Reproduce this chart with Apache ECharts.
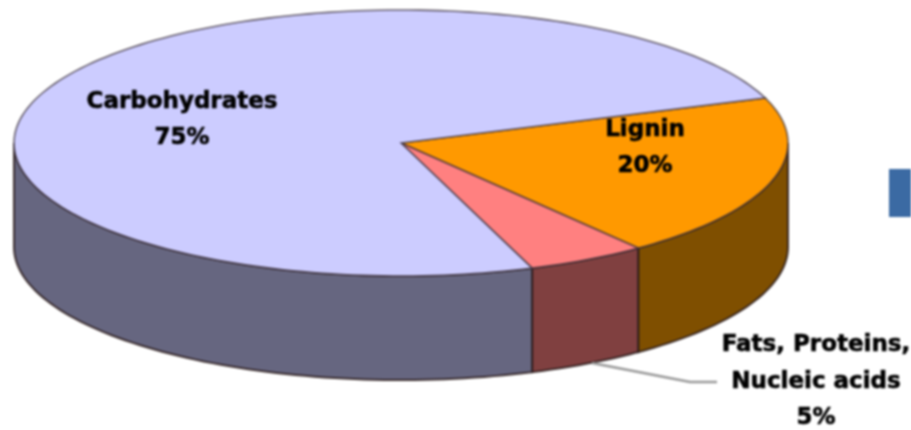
<!DOCTYPE html>
<html>
<head>
<meta charset="utf-8">
<style>
html,body{margin:0;padding:0;background:#fff;overflow:hidden}
#c{width:911px;height:430px;filter:blur(0.9px)}
</style>
<script src="https://cdn.jsdelivr.net/npm/echarts@6/dist/echarts.min.js"></script>
</head>
<body>
<div id="c"></div>
<script>
const categories = ['Lignin', 'Fats, Proteins,\nNucleic acids', 'Carbohydrates'];
const shares = [20, 5, 75];

const topColors = ['#FF9900', '#FF8080', '#CCCCFF'];
const sideColors = ['#7F4F00', '#804040', '#666680'];
const labelAt = [[645, 148], [816, 382], [182, 120]];

const CX = 401, CY = 143, RX = 387, RY = 133, DEPTH = 104, START = -19.8;
const total = shares.reduce((a, b) => a + b, 0);
const rad = d => d * Math.PI / 180;
const pt = (deg, dy) => [CX + RX * Math.cos(rad(deg)), CY + RY * Math.sin(rad(deg)) + (dy || 0)];
function sliceRange(i) {
  let a = START;
  for (let k = 0; k < i; k++) a += shares[k] / total * 360;
  return [a, a + shares[i] / total * 360];
}
function arc(a, b, dy) {
  const out = [], n = Math.max(2, Math.ceil(Math.abs(b - a) / 1.5));
  for (let k = 0; k <= n; k++) out.push(pt(a + (b - a) * k / n, dy));
  return out;
}
const rows = shares.map((v, i) => ({ name: categories[i], value: [v] }));

function renderSide(params, api) {
  const r = sliceRange(params.dataIndex);
  const a = Math.max(r[0], 0), b = Math.min(r[1], 180);
  if (b <= a) return null;
  const points = arc(a, b, 0).concat(arc(b, a, DEPTH));
  return { type: 'polygon', shape: { points },
    style: { fill: sideColors[params.dataIndex], stroke: 'rgba(40,25,25,0.85)', lineWidth: 2 } };
}
function renderTop(params, api) {
  const r = sliceRange(params.dataIndex);
  const points = [[CX, CY]].concat(arc(r[0], r[1], 0));
  return { type: 'polygon', shape: { points },
    style: { fill: topColors[params.dataIndex], stroke: 'rgba(60,50,60,0.75)', lineWidth: 1.6 } };
}
function renderLabel(params, api) {
  const i = params.dataIndex;
  const text = categories[i] + '\n' + api.value(0) + '%';
  return { type: 'text', style: {
    text, x: labelAt[i][0], y: labelAt[i][1], fill: '#000', stroke: '#000', lineWidth: 0.6,
    font: 'bold 23px "DejaVu Sans"', lineHeight: 36.5, align: 'center', verticalAlign: 'middle'
  } };
}
const base = { type: 'custom', coordinateSystem: 'none', data: rows, silent: true, animation: false };
const chart = echarts.init(document.getElementById('c'), null, { renderer: 'canvas' });
chart.setOption({
  animation: false,
  backgroundColor: '#fff',
  series: [
    Object.assign({}, base, { name: 'side', z: 1, renderItem: renderSide }),
    Object.assign({}, base, { name: 'top', z: 2, renderItem: renderTop }),
    Object.assign({}, base, { name: 'label', z: 4, renderItem: renderLabel })
  ],
  graphic: [
    { type: 'polyline', z: 3, shape: { points: [[592, 363], [690, 382], [717, 382]] },
      style: { fill: null, stroke: '#999', lineWidth: 2.5 } },
    { type: 'rect', z: 3, shape: { x: 889, y: 169, width: 22, height: 48 },
      style: { fill: '#3B6AA3' } }
  ]
});
</script>
</body>
</html>
